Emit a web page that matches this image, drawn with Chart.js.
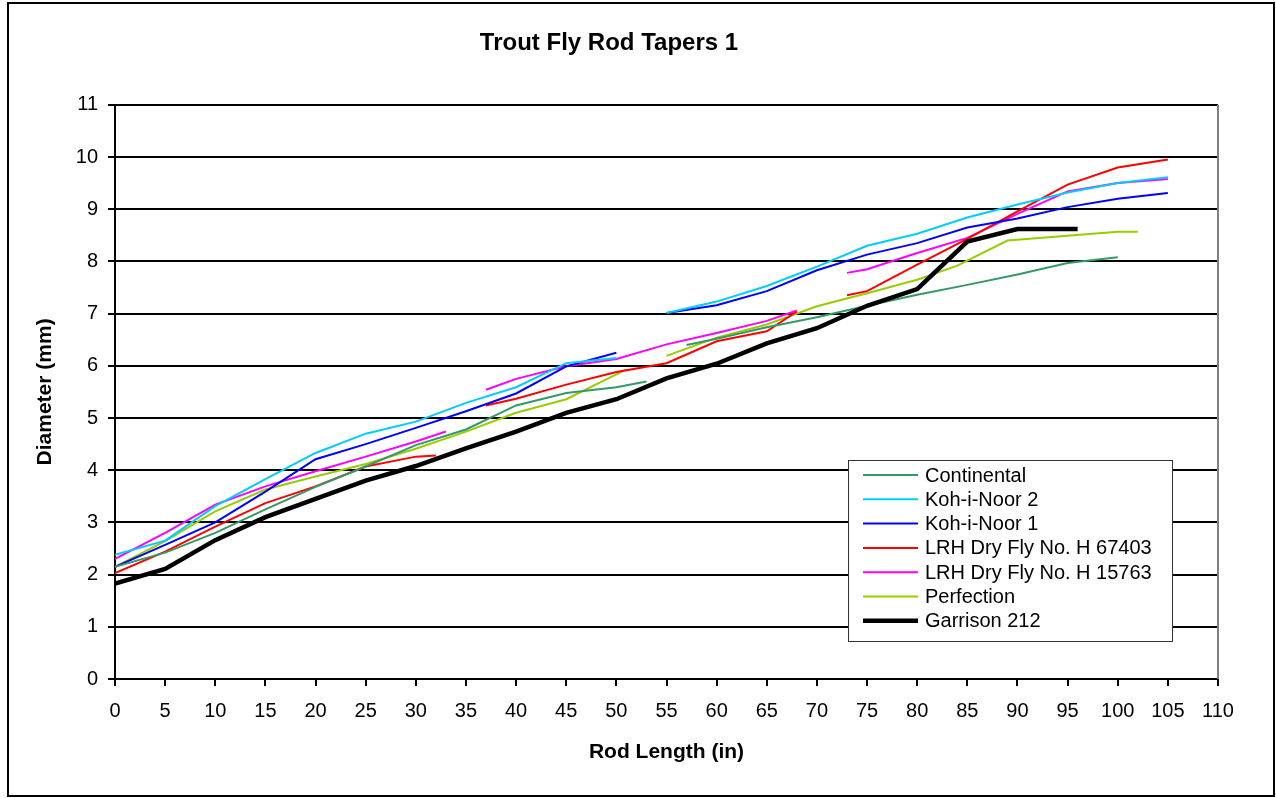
<!DOCTYPE html>
<html>
<head>
<meta charset="utf-8">
<title>Trout Fly Rod Tapers 1</title>
<script src="https://cdn.jsdelivr.net/npm/chart.js@4.4.1/dist/chart.umd.min.js"></script>
<style>
  html, body { margin: 0; padding: 0; background: #fff; }
  canvas { display: block; }
</style>
</head>
<body>
<canvas id="chart" width="1276" height="798"></canvas>
<script>
"use strict";

// Rod length positions (in) and diameters (mm); null breaks the line
const continentalX = [0, 5, 10, 15, 20, 25, 30, 35, 40, 45, 50, 53, 55, 57, 60, 65, 70, 75, 80, 85, 90, 95, 100];
const continentalY = [2.15, 2.42, 2.8, 3.25, 3.68, 4.07, 4.48, 4.78, 5.24, 5.48, 5.59, 5.7, null, 6.4, 6.52, 6.74, 6.93, 7.15, 7.36, 7.55, 7.75, 7.97, 8.08];

const kohiNoor2X = [0, 5, 10, 15, 20, 25, 30, 35, 40, 45, 50, 52, 55, 60, 65, 70, 75, 80, 85, 90, 95, 100, 105];
const kohiNoor2Y = [2.38, 2.65, 3.31, 3.83, 4.33, 4.7, 4.93, 5.29, 5.59, 6.05, 6.15, null, 7.01, 7.23, 7.53, 7.9, 8.3, 8.53, 8.84, 9.09, 9.32, 9.5, 9.61];

const kohiNoor1X = [0, 5, 10, 15, 20, 25, 30, 35, 40, 45, 50, 52, 55, 60, 65, 70, 75, 80, 85, 90, 95, 100, 105];
const kohiNoor1Y = [2.15, 2.57, 3.0, 3.59, 4.21, 4.5, 4.81, 5.13, 5.47, 5.99, 6.25, null, 7.01, 7.16, 7.43, 7.83, 8.13, 8.35, 8.65, 8.82, 9.04, 9.2, 9.31];

const lrh67403X = [0, 5, 10, 15, 20, 25, 30, 32, 35, 37, 40, 45, 50, 55, 60, 65, 68, 70, 73, 75, 80, 85, 90, 95, 100, 105];
const lrh67403Y = [2.03, 2.44, 2.92, 3.37, 3.69, 4.07, 4.26, 4.28, null, 5.24, 5.37, 5.64, 5.88, 6.05, 6.47, 6.66, 7.04, null, 7.35, 7.43, 7.94, 8.43, 8.96, 9.47, 9.8, 9.95];

const lrh15763X = [0, 5, 10, 15, 20, 25, 30, 33, 35, 37, 40, 45, 50, 55, 60, 65, 68, 70, 73, 75, 80, 85, 90, 95, 100, 105];
const lrh15763Y = [2.3, 2.8, 3.34, 3.69, 3.98, 4.26, 4.55, 4.74, null, 5.54, 5.75, 5.99, 6.13, 6.41, 6.63, 6.86, 7.06, null, 7.78, 7.85, 8.16, 8.45, 8.91, 9.34, 9.5, 9.58];

const perfectionX = [0, 5, 10, 15, 20, 25, 30, 35, 40, 45, 51, 53, 55, 60, 65, 70, 75, 80, 84, 89, 100, 102];
const perfectionY = [2.15, 2.64, 3.21, 3.63, 3.88, 4.12, 4.41, 4.74, 5.1, 5.36, 5.93, null, 6.19, 6.54, 6.79, 7.14, 7.39, 7.65, 7.92, 8.4, 8.57, 8.57];

const garrisonX = [0, 5, 10, 15, 20, 25, 30, 35, 40, 45, 50, 55, 60, 65, 70, 75, 80, 85, 90, 96];
const garrisonY = [1.83, 2.11, 2.66, 3.1, 3.45, 3.8, 4.08, 4.42, 4.74, 5.1, 5.36, 5.76, 6.04, 6.43, 6.72, 7.15, 7.47, 8.38, 8.62, 8.62];

const seriesNames = [
  "Continental",
  "Koh-i-Noor 2",
  "Koh-i-Noor 1",
  "LRH Dry Fly No. H 67403",
  "LRH Dry Fly No. H 15763",
  "Perfection",
  "Garrison 212",
];
const seriesColors = ["#339966", "#00ccff", "#0000ff", "#ff0000", "#ff00ff", "#99cc00", "#000000"];

const FONT = "'Liberation Sans', Arial, Helvetica, sans-serif";

function toPoints(xs, ys) {
  return xs.map((x, i) => ({ x: x, y: ys[i] }));
}

const seriesData = [
  toPoints(continentalX, continentalY),
  toPoints(kohiNoor2X, kohiNoor2Y),
  toPoints(kohiNoor1X, kohiNoor1Y),
  toPoints(lrh67403X, lrh67403Y),
  toPoints(lrh15763X, lrh15763Y),
  toPoints(perfectionX, perfectionY),
  toPoints(garrisonX, garrisonY),
];

// frame round the figure, grey right edge of the plot, boxed legend
const framePlugin = {
  id: "frame",
  beforeDraw(chart) {
    const ctx = chart.ctx;
    ctx.save();
    ctx.fillStyle = "#fff";
    ctx.fillRect(0, 0, chart.width, chart.height);
    ctx.restore();
  },
  afterDraw(chart) {
    const ctx = chart.ctx;
    const a = chart.chartArea;
    ctx.save();

    ctx.strokeStyle = "#808080";
    ctx.lineWidth = 2;
    ctx.beginPath();
    ctx.moveTo(a.right, a.top);
    ctx.lineTo(a.right, a.bottom);
    ctx.stroke();

    ctx.strokeStyle = "#000";
    ctx.lineWidth = 2;
    ctx.strokeRect(8, 3, chart.width - 10, chart.height - 5);

    // legend
    const w = 324, h = 181;
    const lx = a.right - 46 - w;
    const ly = a.bottom - 38 - h;
    ctx.fillStyle = "#fff";
    ctx.fillRect(lx, ly, w, h);
    ctx.strokeStyle = "#333";
    ctx.lineWidth = 1;
    ctx.strokeRect(lx + 0.5, ly + 0.5, w, h);

    ctx.font = "20px " + FONT;
    ctx.textBaseline = "middle";
    ctx.textAlign = "left";
    chart.data.datasets.forEach((ds, i) => {
      const cy = ly + 15 + i * 24.3;
      ctx.strokeStyle = ds.borderColor;
      ctx.lineWidth = ds.borderWidth;
      ctx.beginPath();
      ctx.moveTo(lx + 15, cy);
      ctx.lineTo(lx + 70, cy);
      ctx.stroke();
      ctx.fillStyle = "#000";
      ctx.fillText(ds.label, lx + 77, cy + 1);
    });
    ctx.restore();
  },
};

const ctx = document.getElementById("chart").getContext("2d");

new Chart(ctx, {
  type: "line",
  data: {
    datasets: seriesNames.map((name, i) => ({
      label: name,
      data: seriesData[i],
      borderColor: seriesColors[i],
      backgroundColor: seriesColors[i],
      borderWidth: i === 6 ? 4.5 : 2,
      pointRadius: 0,
      tension: 0,
      fill: false,
      spanGaps: false,
      order: i === 6 ? -1 : i,
    })),
  },
  options: {
    responsive: false,
    animation: false,
    layout: { padding: { left: 0, right: 58, top: 0, bottom: 0 } },
    plugins: {
      legend: { display: false },
      tooltip: { enabled: false },
      title: {
        display: true,
        text: "Trout Fly Rod Tapers 1",
        color: "#000",
        font: { family: FONT, size: 24, weight: "bold", lineHeight: 1.2 },
        padding: { top: 29, bottom: 47 },
      },
    },
    scales: {
      x: {
        type: "linear",
        min: 0,
        max: 110,
        afterFit: (scale) => { scale.height = 119; },
        ticks: {
          stepSize: 5,
          color: "#000",
          padding: 13,
          maxRotation: 0,
          font: { family: FONT, size: 20 },
        },
        grid: {
          drawOnChartArea: false,
          drawTicks: true,
          tickLength: 7,
          color: "#000",
          lineWidth: 2,
        },
        border: { display: true, color: "#000", width: 2 },
        title: {
          display: true,
          text: "Rod Length (in)",
          color: "#000",
          font: { family: FONT, size: 21, weight: "bold", lineHeight: 1.2 },
          padding: { top: 0, bottom: 33 },
        },
      },
      y: {
        min: 0,
        max: 11,
        afterFit: (scale) => { scale.width = 115; },
        ticks: {
          stepSize: 1,
          color: "#000",
          padding: 10,
          font: { family: FONT, size: 20 },
        },
        grid: {
          color: "#000",
          lineWidth: 2,
          tickLength: 7,
        },
        border: { display: true, color: "#000", width: 2 },
        title: {
          display: true,
          text: "Diameter (mm)",
          color: "#000",
          font: { family: FONT, size: 21, weight: "bold", lineHeight: 1.2 },
          padding: { top: 33, bottom: 0 },
        },
      },
    },
  },
  plugins: [framePlugin],
});
</script>
</body>
</html>
